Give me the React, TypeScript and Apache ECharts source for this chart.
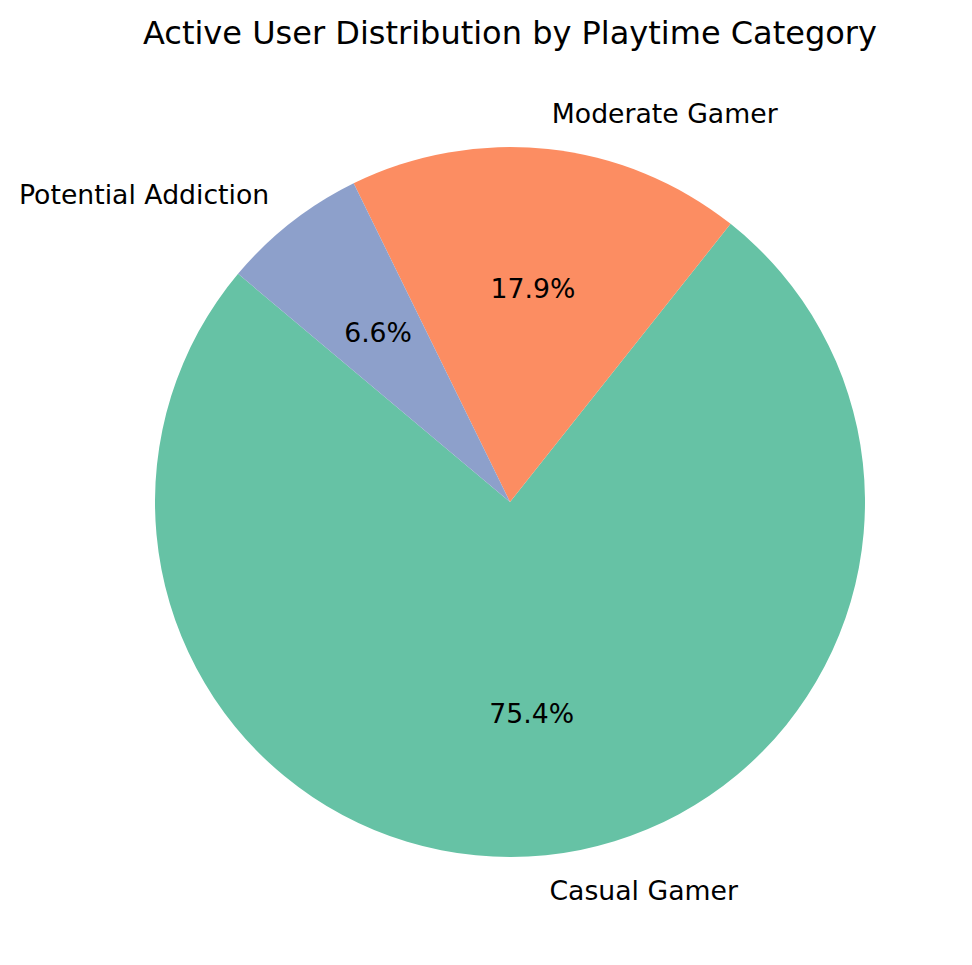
import React, { useEffect, useRef } from "react";
import * as echarts from "echarts";

const categories = ["Casual Gamer", "Moderate Gamer", "Potential Addiction"];
const values = [75.44, 17.93, 6.63];
const colors = ["#66c2a5", "#fc8d62", "#8da0cb"];
const titleText = "Active User Distribution by Playtime Category";

export default function App() {
  const ref = useRef<HTMLDivElement>(null);
  useEffect(() => {
    document.body.style.margin = "0";
    const chart = echarts.init(ref.current!, null, { renderer: "svg" });
    const total = values.reduce((a, b) => a + b, 0);
    const data = categories.map((name, i) => ({
      name,
      value: values[i],
      itemStyle: { color: colors[i] },
    }));
    const font = "DejaVu Sans";
    const R = 355;
    chart.setOption({
      animation: false,
      backgroundColor: "#ffffff",
      title: {
        text: titleText,
        left: 138,
        top: 12,
        textStyle: { fontFamily: font, fontSize: 32, fontWeight: "normal", color: "#000" },
      },
      series: [
        {
          type: "pie",
          center: [510, 502],
          radius: [0, R],
          startAngle: 140,
          clockwise: false,
          avoidLabelOverlap: false,
          silent: true,
          data,
          label: {
            show: true,
            position: "outside",
            alignTo: "none",
            distanceToLabelLine: 0,
            formatter: "{b}",
            fontFamily: font,
            fontSize: 26.7,
            color: "#000",
          },
          labelLine: { show: false, length: 35.5, length2: 0 },
        },
        {
          type: "pie",
          center: [510, 501],
          radius: [100, 322],
          startAngle: 140,
          clockwise: false,
          avoidLabelOverlap: false,
          silent: true,
          data: categories.map((name, i) => ({ name, value: values[i] })),
          itemStyle: { color: "rgba(0,0,0,0)" },
          label: {
            show: true,
            position: "inside",
            rotate: 0,
            formatter: (p: any) => ((p.value / total) * 100).toFixed(1) + "%",
            fontFamily: font,
            fontSize: 26.7,
            color: "#000",
          },
          labelLine: { show: false },
        },
      ],
    });
    return () => chart.dispose();
  }, []);
  return <div ref={ref} style={{ width: 972, height: 965 }} />;
}
